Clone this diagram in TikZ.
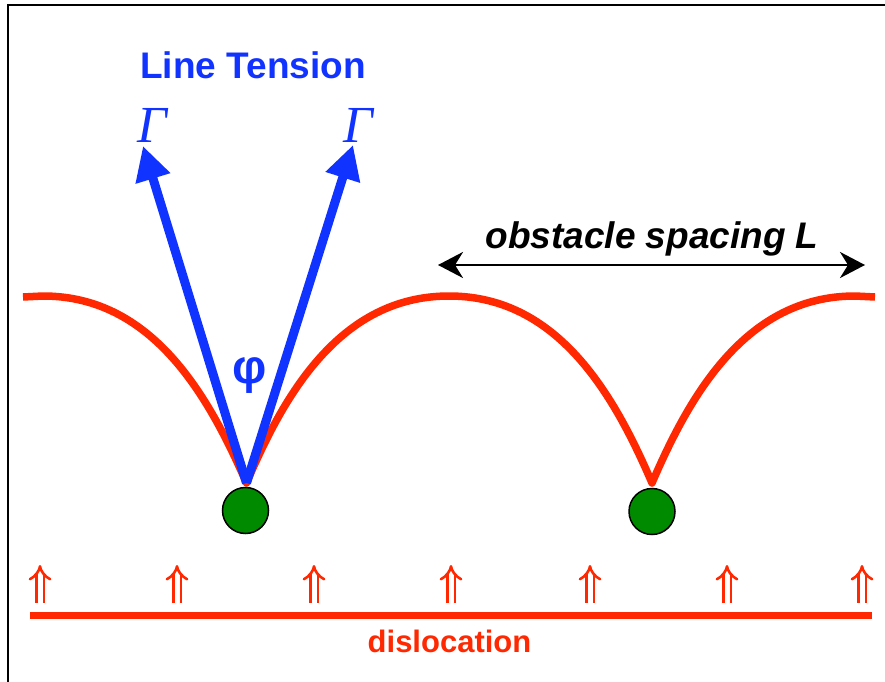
\documentclass[tikz,border=0pt]{standalone}
\usepackage{fontspec}
\usepackage{tikz}
\usetikzlibrary{arrows.meta}
\newfontfamily\arialfont{Liberation Sans}
\newfontfamily\timesfont{Liberation Serif}
\definecolor{TenBlue}{HTML}{1133FF}
\definecolor{DisRed}{HTML}{FF2800}
\definecolor{PinGreen}{HTML}{008A00}

\begin{document}
\begin{tikzpicture}[
  x=1pt,y=1pt,
  disline/.style={draw=DisRed,line width=7.5pt,line join=round},
  tenarrow/.style={draw=TenBlue,line width=9pt,-{Triangle[length=34pt,width=34pt]}},
  obstacle/.style={circle,draw=black,line width=1.5pt,fill=PinGreen,minimum size=46pt,inner sep=0pt},
  pusharrow/.style={draw=DisRed,double=white,double distance=5pt,line width=2.6pt,-{Implies}},
  spacearrow/.style={draw=black,line width=2.8pt,
    {Stealth[length=25pt,width=26pt,inset=8pt]}-{Stealth[length=25pt,width=26pt,inset=8pt]}},
  tentext/.style={text=TenBlue,font=\arialfont\bfseries\fontsize{37}{40}\selectfont,inner sep=0pt},
  gamtext/.style={text=TenBlue,font=\timesfont\itshape\fontsize{52}{55}\selectfont,inner sep=0pt},
  bodytext/.style={font=\arialfont\bfseries\itshape\fontsize{37}{40}\selectfont,inner sep=0pt},
  distext/.style={text=DisRed,font=\arialfont\bfseries\fontsize{31}{34}\selectfont,inner sep=0pt}
]
  \useasboundingbox (0,0) rectangle (885,681);
  % frame
  \draw[line width=2pt] (8,-10) -- (8,676) -- (895,676);

  % bowed line between the obstacles
  \coordinate (cuspA) at (246.5,198);
  \coordinate (cuspB) at (652,198);
  \draw[disline] (23,384) -- (43,385) .. controls (153,385) and (209,284) .. (cuspA)
    .. controls (283,284) and (339,385) .. (449,385)
    .. controls (559,385) and (615,284) .. (cuspB)
    .. controls (689,284) and (745,385) .. (855,385) -- (875,384);

  % line tension
  \coordinate (tipL) at (143,535);
  \coordinate (tipR) at (353,536);
  \draw[tenarrow] (cuspA) -- (tipL);
  \draw[tenarrow] (cuspA) -- (tipR);
  \node[gamtext] (gamL) at (152,556) {Γ};
  \node[gamtext] (gamR) at (358,556) {Γ};
  \node[tentext] (tension) at (253,616) {Line Tension};
  \node[text=TenBlue,font=\arialfont\bfseries\fontsize{48}{50}\selectfont,inner sep=0pt] (phi) at (250,305) {φ};

  % obstacles
  \node[obstacle] (pinA) at (245.5,170.5) {};
  \node[obstacle] (pinB) at (652,169.5) {};

  % spacing
  \coordinate (spL) at (438,416);
  \coordinate (spR) at (865,416);
  \draw[spacearrow] (spL) -- (spR);
  \node[bodytext] (spacetext) at (652,442) {obstacle spacing L};

  % straight dislocation
  \coordinate (disL) at (30,65.5);
  \coordinate (disR) at (872,65.5);
  \draw[disline] (disL) -- (disR);
  \foreach \x in {40,177,314,451,590,727,862}
    \draw[pusharrow] (\x,78) -- (\x,116);
  \node[distext] (dislabel) at (449.5,40) {dislocation};
\end{tikzpicture}
\end{document}
